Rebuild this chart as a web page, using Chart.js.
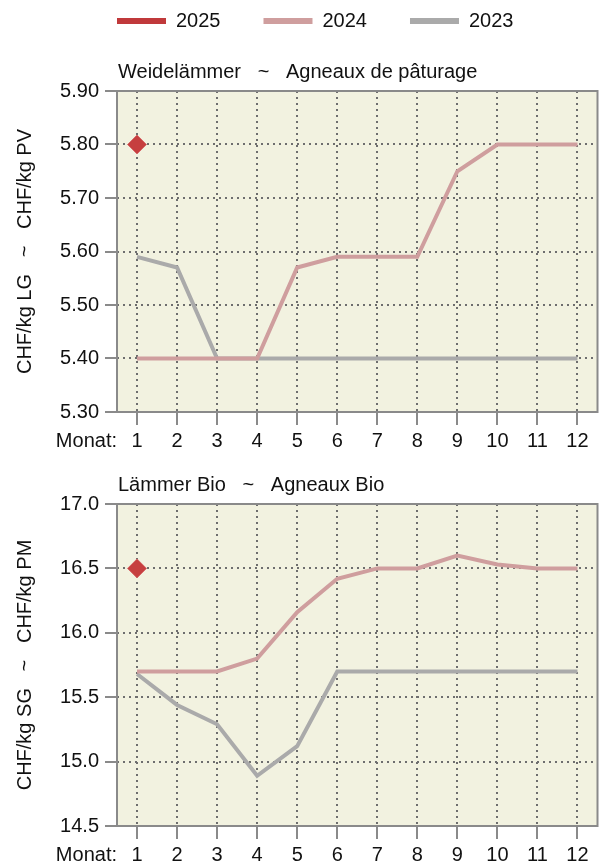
<!DOCTYPE html>
<html>
<head>
<meta charset="utf-8">
<script src="https://cdn.jsdelivr.net/npm/chart.js@4.4.1/dist/chart.umd.min.js"></script>
<style>
  html, body { margin: 0; padding: 0; background: #fff; }
  .panel { position: absolute; left: 0; width: 608px; }
  #panel-weide { top: 0; height: 460px; }
  #panel-bio { top: 460px; height: 406px; }
</style>
</head>
<body>
<div class="panel" id="panel-weide"><canvas id="weide"></canvas></div>
<div class="panel" id="panel-bio"><canvas id="bio"></canvas></div>
<script>
const months = ["1", "2", "3", "4", "5", "6", "7", "8", "9", "10", "11", "12"];
const years = ["2025", "2024", "2023"];
const yearColors = ["#c0393b", "#cf9e9e", "#aaaaaa"];

// Weidelämmer, CHF/kg
const weide2025 = [5.80];
const weide2024 = [5.40, 5.40, 5.40, 5.40, 5.57, 5.59, 5.59, 5.59, 5.75, 5.80, 5.80, 5.80];
const weide2023 = [5.59, 5.57, 5.40, 5.40, 5.40, 5.40, 5.40, 5.40, 5.40, 5.40, 5.40, 5.40];
const weideAxis = [5.30, 5.90, 0.10];

// Lämmer Bio, CHF/kg
const bio2025 = [16.5];
const bio2024 = [15.70, 15.70, 15.70, 15.80, 16.16, 16.42, 16.50, 16.50, 16.60, 16.53, 16.50, 16.50];
const bio2023 = [15.68, 15.44, 15.29, 14.89, 15.12, 15.70, 15.70, 15.70, 15.70, 15.70, 15.70, 15.70];
const bioAxis = [14.5, 17.0, 0.5];

const FONT = "'Liberation Sans', Arial, sans-serif";
const PLOT_BG = "#f2f2e0";
const FRAME = "#8a8a8a";
const GRID = "#6e6e6e";

// beige plot area with a grey frame
const plotFrame = {
    id: "plotFrame",
    beforeDraw(chart) {
        const a = chart.chartArea;
        const ctx = chart.ctx;
        ctx.save();
        ctx.fillStyle = PLOT_BG;
        ctx.fillRect(a.left, a.top, a.right - a.left, a.bottom - a.top);
        ctx.restore();
    },
    afterDraw(chart) {
        const a = chart.chartArea;
        const ctx = chart.ctx;
        ctx.save();
        ctx.strokeStyle = FRAME;
        ctx.lineWidth = 2;
        ctx.strokeRect(a.left, a.top, a.right - a.left, a.bottom - a.top);
        ctx.restore();
    }
};

// panel heading above the plot and the "Monat:" caption left of the month ticks
const panelText = {
    id: "panelText",
    afterDraw(chart, args, opts) {
        const a = chart.chartArea;
        const ctx = chart.ctx;
        ctx.save();
        ctx.font = "20px " + FONT;
        ctx.fillStyle = "#111";
        ctx.textBaseline = "middle";
        ctx.textAlign = "left";
        ctx.fillText(opts.title, a.left + 1, a.top - 19);
        ctx.textAlign = "right";
        ctx.fillText("Monat:", a.left, chart.scales.x.top + 29);
        ctx.restore();
    }
};

// year legend: thick line sample followed by the year
const yearLegend = {
    id: "yearLegend",
    afterDraw(chart, args, opts) {
        if (!opts.show) return;
        const ctx = chart.ctx;
        ctx.save();
        ctx.font = "20px " + FONT;
        ctx.textBaseline = "middle";
        ctx.textAlign = "left";
        let x = 117;
        const y = 21;
        chart.data.datasets.forEach(ds => {
            ctx.fillStyle = ds.borderColor;
            ctx.fillRect(x, y - 3, 49, 6);
            ctx.fillStyle = "#111";
            ctx.fillText(ds.label, x + 59, y);
            x += 59 + ctx.measureText(ds.label).width + 43;
        });
        ctx.restore();
    }
};

function makeChart(id, title, yTitle, series, axis, decimals, padding, showLegend) {
    const datasets = years.map((year, i) => ({
        label: year,
        data: series[i],
        borderColor: yearColors[i],
        backgroundColor: yearColors[i],
        borderWidth: 4,
        tension: 0,
        pointRadius: i === 0 ? 9.5 : 0,
        pointStyle: "rectRot",
        pointBackgroundColor: "#c63f3f",
        pointBorderColor: "#d66a6a",
        pointBorderWidth: 1
    }));

    return new Chart(document.getElementById(id), {
        type: "line",
        data: { labels: months, datasets: datasets },
        options: {
            responsive: true,
            maintainAspectRatio: false,
            animation: false,
            layout: { padding: padding },
            plugins: {
                legend: { display: false },
                tooltip: { enabled: false },
                panelText: { title: title },
                yearLegend: { show: showLegend }
            },
            scales: {
                x: {
                    type: "category",
                    offset: true,
                    grid: {
                        offset: false,
                        color: GRID,
                        lineWidth: 2,
                        tickLength: 13,
                        tickColor: FRAME,
                        tickWidth: 2,
                        tickBorderDash: []
                    },
                    border: { display: false, dash: [2, 4] },
                    ticks: {
                        padding: 6,
                        color: "#111",
                        font: { family: FONT, size: 20, lineHeight: 1 },
                        maxRotation: 0,
                        autoSkip: false
                    },
                    afterFit: scale => { scale.height = 39; }
                },
                y: {
                    min: axis[0],
                    max: axis[1],
                    grid: {
                        color: GRID,
                        lineWidth: 2,
                        tickLength: 12,
                        tickColor: FRAME,
                        tickWidth: 2,
                        tickBorderDash: []
                    },
                    border: { display: false, dash: [2, 4] },
                    ticks: {
                        stepSize: axis[2],
                        padding: 6,
                        color: "#111",
                        font: { family: FONT, size: 20 },
                        callback: v => v.toFixed(decimals)
                    },
                    title: {
                        display: true,
                        text: yTitle,
                        color: "#111",
                        font: { family: FONT, size: 20, lineHeight: 1.2 },
                        padding: { top: 13, bottom: 0 }
                    },
                    afterFit: scale => { scale.width = 117; }
                }
            }
        },
        plugins: [plotFrame, panelText, yearLegend]
    });
}

makeChart("weide", "Weidelämmer   ~   Agneaux de pâturage", "CHF/kg LG   ~   CHF/kg PV",
    [weide2025, weide2024, weide2023], weideAxis, 2,
    { top: 91, right: 1, bottom: 9, left: 0 }, true);

makeChart("bio", "Lämmer Bio   ~   Agneaux Bio", "CHF/kg SG   ~   CHF/kg PM",
    [bio2025, bio2024, bio2023], bioAxis, 1,
    { top: 44, right: 1, bottom: 1, left: 0 }, false);
</script>
</body>
</html>
